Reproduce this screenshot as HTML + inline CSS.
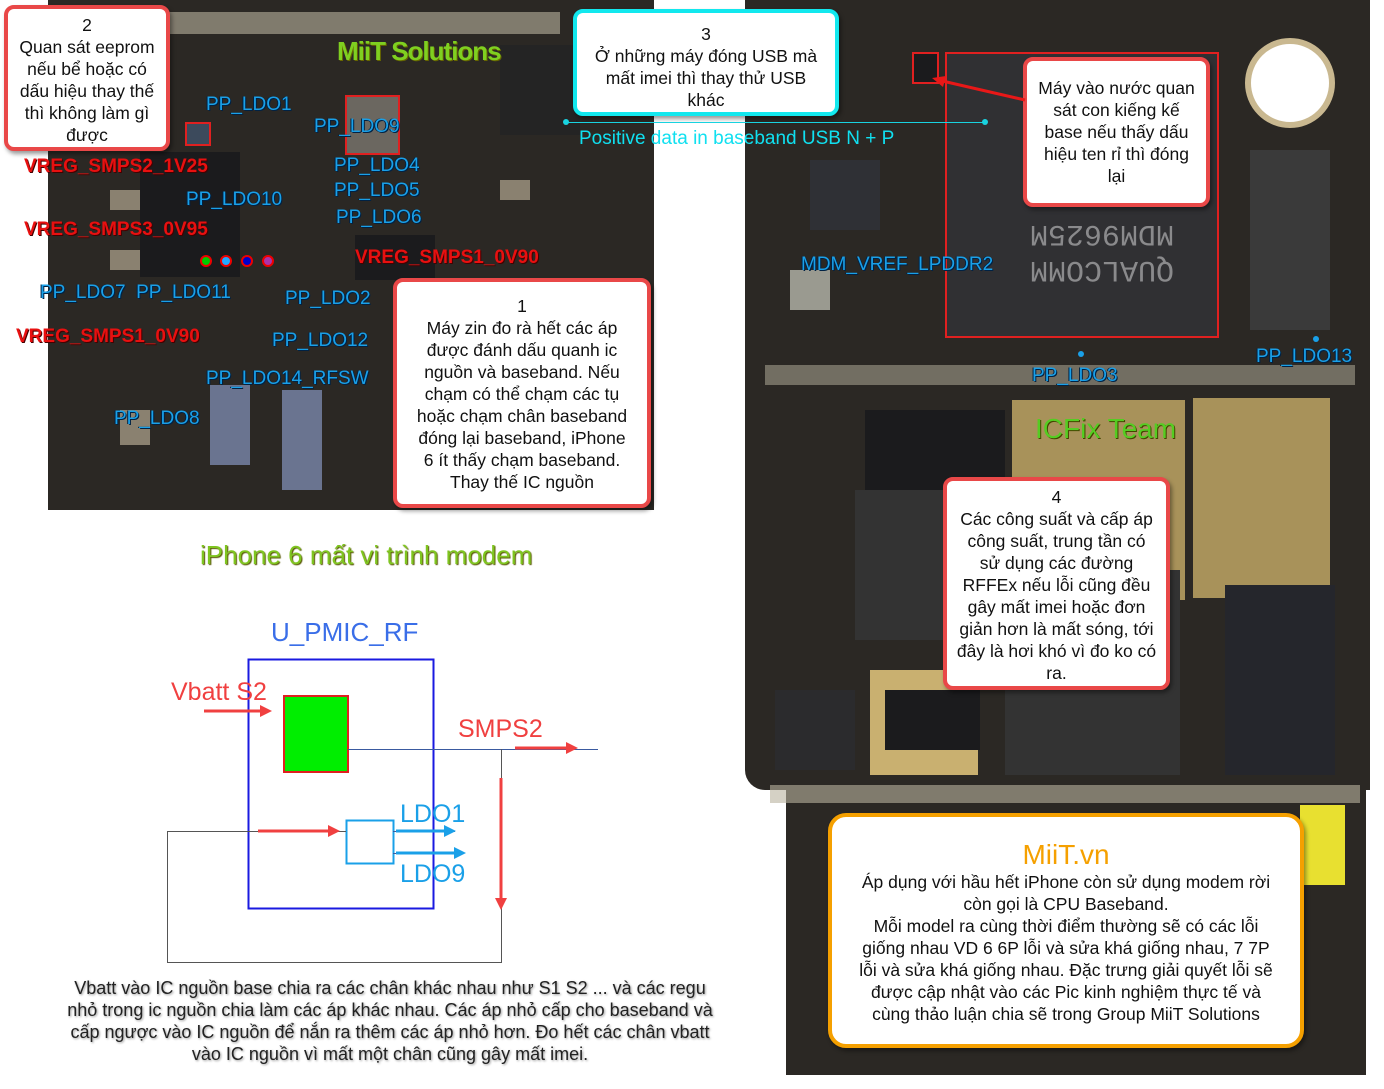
<!DOCTYPE html>
<html><head><meta charset="utf-8"><style>
body{margin:0;width:1384px;height:1089px;position:relative;background:#fff;overflow:hidden;font-family:"Liberation Sans",sans-serif}
div{position:absolute;box-sizing:border-box}
.pcb{background:#2b2824}
.chip{background:#1b1b1d}
.cap{background:#8a8170}
.pad{background:#b9b39f}
.gold{background:#a8925a}
.box{background:#fff;border:4px solid #e94848;border-radius:10px;text-align:center;color:#111;font-size:17.5px;line-height:22px;box-shadow:2px 3px 4px rgba(0,0,0,.4);white-space:nowrap}
.b{color:#1aa0e8;font-size:19px;text-shadow:1px 1px 0 #024,-1px 0 0 #024;white-space:nowrap}
.r{color:#e81010;font-size:19px;font-weight:bold;text-shadow:1px 1px 0 #400;white-space:nowrap}
.dot{width:6px;height:6px;border-radius:3px}
</style></head><body>
<!-- left pcb -->
<div class="pcb" style="left:48px;top:0;width:606px;height:510px"></div>
<div class="pad" style="left:140px;top:12px;width:420px;height:22px;opacity:.6"></div>
<div class="chip" style="left:140px;top:152px;width:100px;height:125px"></div>
<div class="chip" style="left:500px;top:45px;width:80px;height:90px;background:#242424"></div>
<div class="chip" style="left:355px;top:235px;width:80px;height:45px"></div>
<div class="cap" style="left:345px;top:95px;width:55px;height:60px;background:#6b6760;border:2px solid #e02020"></div>
<div class="cap" style="left:185px;top:122px;width:26px;height:24px;background:#3c4a5c;border:2px solid #e02020"></div>
<div class="chip" style="left:210px;top:385px;width:40px;height:80px;background:#6a7490"></div>
<div class="chip" style="left:282px;top:390px;width:40px;height:100px;background:#6a7490"></div>
<div class="cap" style="left:110px;top:190px;width:30px;height:20px"></div>
<div class="cap" style="left:110px;top:250px;width:30px;height:20px"></div>
<div class="cap" style="left:500px;top:180px;width:30px;height:20px"></div>
<div class="cap" style="left:120px;top:410px;width:30px;height:35px"></div>
<div style="left:337px;top:36px;font-size:26px;color:#7fd020;text-shadow:1px 1px 0 #660;font-weight:bold;letter-spacing:-1px">MiiT Solutions</div>
<div class="b" style="left:206px;top:94px">PP_LDO1</div>
<div class="b" style="left:314px;top:116px">PP_LDO9</div>
<div class="b" style="left:334px;top:155px">PP_LDO4</div>
<div class="b" style="left:334px;top:180px">PP_LDO5</div>
<div class="b" style="left:336px;top:207px">PP_LDO6</div>
<div class="b" style="left:186px;top:189px">PP_LDO10</div>
<div class="b" style="left:40px;top:282px">PP_LDO7&nbsp; PP_LDO11</div>
<div class="b" style="left:285px;top:288px">PP_LDO2</div>
<div class="b" style="left:272px;top:330px">PP_LDO12</div>
<div class="b" style="left:206px;top:368px">PP_LDO14_RFSW</div>
<div class="b" style="left:114px;top:408px">PP_LDO8</div>
<div class="r" style="left:24px;top:156px">VREG_SMPS2_1V25</div>
<div class="r" style="left:24px;top:219px">VREG_SMPS3_0V95</div>
<div class="r" style="left:355px;top:247px">VREG_SMPS1_0V90</div>
<div class="r" style="left:16px;top:326px">VREG_SMPS1_0V90</div>
<div class="dot" style="left:200px;top:255px;width:12px;height:12px;border-radius:6px;background:#0c0;border:2px solid #e00"></div>
<div class="dot" style="left:220px;top:255px;width:12px;height:12px;border-radius:6px;background:#2af;border:2px solid #e00"></div>
<div class="dot" style="left:241px;top:255px;width:12px;height:12px;border-radius:6px;background:#00c;border:2px solid #e00"></div>
<div class="dot" style="left:262px;top:255px;width:12px;height:12px;border-radius:6px;background:#a3a;border:2px solid #e00"></div>
<div class="box" style="left:4px;top:5px;width:166px;height:146px;padding:5px 0 0">2<br>Quan sát eeprom<br>nếu bể hoặc có<br>dấu hiệu thay thế<br>thì không làm gì<br>được</div>
<div class="box" style="left:393px;top:278px;width:258px;height:230px;padding:13px 0 0">1<br>Máy zin đo rà hết các áp<br>được đánh dấu quanh ic<br>nguồn và baseband. Nếu<br>chạm có thể chạm các tụ<br>hoặc chạm chân baseband<br>đóng lại baseband, iPhone<br>6 ít thấy chạm baseband.<br>Thay thế IC nguồn</div>
<!-- right pcb -->
<div class="pcb" style="left:745px;top:0;width:625px;height:790px;border-radius:0 0 0 20px"></div>
<div class="pcb" style="left:786px;top:780px;width:580px;height:295px"></div>
<div style="left:1245px;top:38px;width:90px;height:90px;border-radius:45px;background:#fff;border:6px solid #c9b890"></div>
<div class="chip" style="left:945px;top:52px;width:274px;height:286px;background:#303033;border:2px solid #e02020"></div>
<div style="left:1030px;top:215px;color:#8a8a8c;font-size:30px;transform:rotate(180deg);font-family:'Liberation Mono';line-height:36px">QUALCOMM<br>MDM9625M</div>
<div class="chip" style="left:912px;top:52px;width:27px;height:32px;border:2px solid #e02020"></div>
<div class="chip" style="left:810px;top:160px;width:70px;height:70px;background:#2f3035"></div>
<div class="chip" style="left:1250px;top:150px;width:80px;height:180px;background:#3a3a3a"></div>
<div class="cap" style="left:790px;top:270px;width:40px;height:40px;background:#9a9a90"></div>
<div class="pad" style="left:765px;top:365px;width:590px;height:20px;opacity:.5"></div>
<div class="chip" style="left:865px;top:410px;width:140px;height:125px"></div>
<div class="gold" style="left:1012px;top:400px;width:173px;height:200px"></div>
<div class="gold" style="left:1193px;top:398px;width:137px;height:200px"></div>
<div style="left:1035px;top:413px;font-size:28px;color:#5c2;text-shadow:1px 1px 0 #440">ICFix Team</div>
<div class="chip" style="left:855px;top:490px;width:95px;height:150px;background:#333"></div>
<div class="gold" style="left:870px;top:670px;width:108px;height:105px;background:#c9b070"></div>
<div class="chip" style="left:885px;top:690px;width:95px;height:60px"></div>
<div class="chip" style="left:1005px;top:570px;width:175px;height:205px;background:#333"></div>
<div class="chip" style="left:1225px;top:585px;width:110px;height:190px;background:#25262c"></div>
<div class="chip" style="left:775px;top:690px;width:80px;height:80px;background:#2b2b2d"></div>
<div class="pad" style="left:770px;top:785px;width:590px;height:18px;opacity:.6"></div>
<div style="left:1300px;top:805px;width:45px;height:80px;background:#e8e030"></div>
<div class="b" style="left:801px;top:254px">MDM_VREF_LPDDR2</div>
<div class="b" style="left:1032px;top:365px">PP_LDO3</div>
<div class="b" style="left:1256px;top:346px">PP_LDO13</div>
<div class="dot" style="left:1078px;top:351px;background:#1aa0e8"></div>
<div class="dot" style="left:1313px;top:336px;background:#1aa0e8"></div>
<!-- box 3 -->
<div class="box" style="left:573px;top:9px;width:266px;height:107px;border-color:#12e8ee;padding:10px 0 0">3<br>Ở những máy đóng USB mà<br>mất imei thì thay thử USB<br>khác</div>
<div style="left:567px;top:122px;width:420px;height:1px;background:#19d3e0"></div>
<div class="dot" style="left:563px;top:119px;background:#19d3e0"></div>
<div class="dot" style="left:982px;top:119px;background:#19d3e0"></div>
<div style="left:579px;top:128px;font-size:19px;color:#10e0f0;white-space:nowrap">Positive data in baseband USB N + P</div>
<div class="box" style="left:1023px;top:57px;width:187px;height:150px;padding:16px 0 0">Máy vào nước quan<br>sát con kiếng kế<br>base nếu thấy dấu<br>hiệu ten rỉ thì đóng<br>lại</div>
<svg style="position:absolute;left:930px;top:70px" width="100" height="40"><line x1="95" y1="30" x2="8" y2="10" stroke="#e81818" stroke-width="3"/><polygon points="2,8 16,6 13,17" fill="#e81818"/></svg>
<div class="box" style="left:943px;top:477px;width:227px;height:213px;padding:5px 0 0">4<br>Các công suất và cấp áp<br>công suất, trung tần có<br>sử dụng các đường<br>RFFEx nếu lỗi cũng đều<br>gây mất imei hoặc đơn<br>giản hơn là mất sóng, tới<br>đây là hơi khó vì đo ko có<br>ra.</div>
<div class="box" style="left:828px;top:813px;width:476px;height:235px;border-color:#f5a000;border-radius:18px;padding:22px 0 0">
<div style="position:static;font-size:28px;color:#f5a000;line-height:32px">MiiT.vn</div>Áp dụng với hầu hết iPhone còn sử dụng modem rời<br>còn gọi là CPU Baseband.<br>Mỗi model ra cùng thời điểm thường sẽ có các lỗi<br>giống nhau VD 6 6P lỗi và sửa khá giống nhau, 7 7P<br>lỗi và sửa khá giống nhau. Đặc trưng giải quyết lỗi sẽ<br>được cập nhật vào các Pic kinh nghiệm thực tế và<br>cùng thảo luận chia sẽ trong Group MiiT Solutions</div>
<!-- diagram -->
<div style="left:200px;top:540px;font-size:26px;color:#7fc520;text-shadow:1px 1px 1px #550;white-space:nowrap">iPhone 6 mất vi trình modem</div>
<div style="left:271px;top:617px;font-size:26px;color:#3a6ee8">U_PMIC_RF</div>
<svg style="position:absolute;left:0;top:0" width="1384" height="1089">
<rect x="248.5" y="659.5" width="185" height="249" fill="none" stroke="#1a1ae0" stroke-width="2"/>
<rect x="284" y="696" width="64" height="76" fill="#00ee00" stroke="#e02020" stroke-width="2"/>
<rect x="346.5" y="820.5" width="47" height="43" fill="none" stroke="#1aa0e8" stroke-width="2"/>
<line x1="348" y1="749.5" x2="598" y2="749.5" stroke="#3a5aa0"/>
<polyline points="501.5,749 501.5,962.5 167.5,962.5 167.5,831.5 346,831.5" fill="none" stroke="#555"/>
<line x1="393" y1="831.5" x2="455" y2="831.5" stroke="#3a5aa0"/>
<line x1="393" y1="853.5" x2="455" y2="853.5" stroke="#3a5aa0"/>
<g stroke="#f04040" stroke-width="3" fill="#f04040">
<line x1="204" y1="711" x2="262" y2="711"/><polygon points="272,711 260,705 260,717" stroke="none"/>
<line x1="515" y1="748" x2="568" y2="748"/><polygon points="578,748 566,742 566,754" stroke="none"/>
<line x1="258" y1="831" x2="330" y2="831"/><polygon points="340,831 328,825 328,837" stroke="none"/>
<line x1="501" y1="778" x2="501" y2="900"/><polygon points="501,910 495,898 507,898" stroke="none"/>
</g>
<g stroke="#1aa0e8" stroke-width="3" fill="#1aa0e8">
<line x1="396" y1="831" x2="446" y2="831"/><polygon points="456,831 444,825 444,837" stroke="none"/>
<line x1="396" y1="853" x2="456" y2="853"/><polygon points="466,853 454,847 454,859" stroke="none"/>
</g>
</svg>
<div style="left:171px;top:678px;font-size:25px;color:#f04040">Vbatt S2</div>
<div style="left:458px;top:715px;font-size:25px;color:#f04040">SMPS2</div>
<div style="left:400px;top:800px;font-size:25px;color:#1aa0e8">LDO1</div>
<div style="left:400px;top:860px;font-size:25px;color:#1aa0e8">LDO9</div>
<div style="left:30px;top:977px;width:720px;text-align:center;font-size:18px;line-height:22px;color:#222;text-shadow:1px 1px 2px #999;white-space:nowrap">Vbatt vào IC nguồn base chia ra các chân khác nhau như S1 S2 ... và các regu<br>nhỏ trong ic nguồn chia làm các áp khác nhau. Các áp nhỏ cấp cho baseband và<br>cấp ngược vào IC nguồn để nắn ra thêm các áp nhỏ hơn. Đo hết các chân vbatt<br>vào IC nguồn vì mất một chân cũng gây mất imei.</div>
</body></html>
